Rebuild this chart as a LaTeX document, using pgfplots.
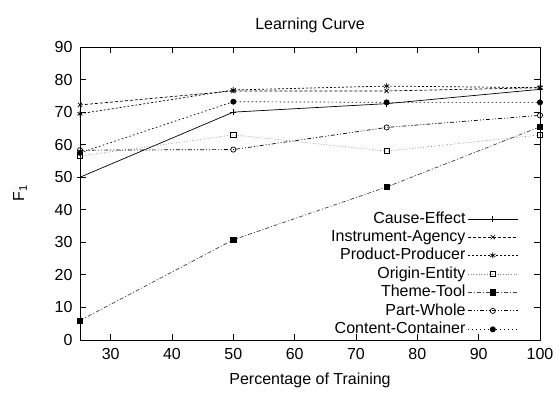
\documentclass[border=0pt]{standalone}
\usepackage{fontspec}
\setmainfont{Liberation Sans}
\usepackage{pgfplots}
\pgfplotsset{compat=1.18}
\begin{document}
\fontsize{16}{19}\selectfont
\begin{tikzpicture}
\begin{axis}[
  at={(0,0)}, anchor=south west,
  scale only axis, width=460pt, height=293pt,
  xmin=25, xmax=100, ymin=0, ymax=90,
  xtick={30,40,...,100}, ytick={0,10,...,90},
  tick align=inside, major tick length=6pt,
  tick style={black, line width=0.8pt},
  axis line style={line width=0.9pt},
  /pgf/number format/assume math mode=true,
  tick label style={font=\fontsize{16}{19}\selectfont},
  xticklabel style={yshift=-3pt},
  yticklabel style={xshift=-2pt},
  title={Learning Curve},
  title style={font=\fontsize{16}{19}\selectfont, yshift=3pt},
  xlabel={Percentage of Training},
  xlabel style={font=\fontsize{16}{19}\selectfont, yshift=-2pt},
  ylabel={F\textsubscript{1}},
  every axis y label/.style={at={(axis description cs:0,0.5)}, rotate=90, anchor=center, yshift=60pt, font=\fontsize{16}{19}\selectfont},
  legend plot pos=right,
  legend cell align=right,
  legend style={draw=none, fill=none, at={(0.953,0.005)}, anchor=south east,
    font=\fontsize{16}{19}\selectfont, row sep=0.5pt, inner sep=0pt},
  legend image code/.code={\draw[mark repeat=2,mark phase=2] plot coordinates {(0pt,0pt) (25pt,0pt) (50pt,0pt)};},
  every axis plot/.append style={line width=0.7pt, mark size=3pt},
]
\addplot[black, solid, mark=+, mark options={solid}] coordinates {(25,50) (50,70) (75,72.6) (100,77)};
\addlegendentry{Cause-Effect}
\addplot[black, dash pattern=on 3pt off 2pt, mark=x, mark options={solid}] coordinates {(25,72.2) (50,76.5) (75,76.5) (100,77.5)};
\addlegendentry{Instrument-Agency}
\addplot[black, dash pattern=on 2pt off 2pt, mark=asterisk, mark options={solid}] coordinates {(25,69.5) (50,76.8) (75,78) (100,77.5)};
\addlegendentry{Product-Producer}
\addplot[gray, dotted, mark=square, mark options={solid, black, mark size=2.6pt}] coordinates {(25,56.5) (50,63) (75,58) (100,63)};
\addlegendentry{Origin-Entity}
\addplot[black!75, dash pattern=on 4pt off 2pt on 1pt off 2pt, mark=square*, mark options={solid, black, mark size=2.6pt}] coordinates {(25,6) (50,30.8) (75,47) (100,65.5)};
\addlegendentry{Theme-Tool}
\addplot[black, dash pattern=on 4pt off 2pt on 1pt off 2pt on 1pt off 2pt, mark=o, mark options={solid, mark size=2.6pt}] coordinates {(25,58.3) (50,58.5) (75,65.3) (100,69)};
\addlegendentry{Part-Whole}
\addplot[black, dash pattern=on 1.5pt off 2.5pt, mark=*, mark options={solid, mark size=2.6pt}] coordinates {(25,57.5) (50,73.2) (75,73) (100,73)};
\addlegendentry{Content-Container}
\end{axis}
\path[use as bounding box] (-80pt,-52pt) rectangle (479pt,340pt);
\end{tikzpicture}
\end{document}
